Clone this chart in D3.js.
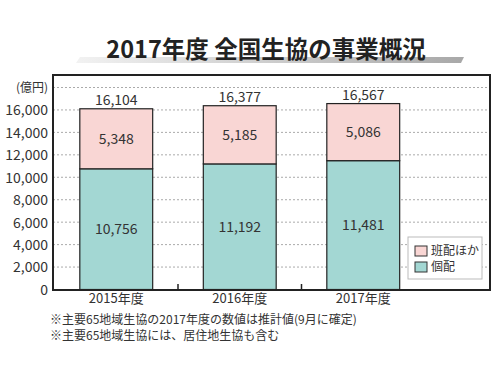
<!DOCTYPE html>
<html><head><meta charset="utf-8">
<script src="https://cdn.jsdelivr.net/npm/d3@7"></script>
<style>body{margin:0;background:#fff}svg{display:block}text{font-family:"Noto Sans CJK JP","Noto Sans",sans-serif}</style>
</head><body><svg id="c" width="500" height="375"></svg>
<script>
const categories = ["2015年度","2016年度","2017年度"];
const kohai = [10756, 11192, 11481];
const hanhai = [5348, 5185, 5086];
const totals = [16104, 16377, 16567];
const yTicks = [0,2000,4000,6000,8000,10000,12000,14000,16000];
const seriesNames = ["班配ほか","個配"];
const colors = {kohai:"#a3d7d3", hanhai:"#f9d6d4"};
const titleText = "2017年度 全国生協の事業概況";
const unitLabel = "(億円)";
const notes = ["※主要65地域生協の2017年度の数値は推計値(9月に確定)","※主要65地域生協には、居住地生協も含む"];

const svg = d3.select("#c");
const fmt = d3.format(",");
const frame = {l:53, r:490, t:75, b:290};
const x = d3.scaleBand().domain(categories).range([54.5, 425]).paddingInner(0.41).paddingOuter(0.205);
const y = d3.scaleLinear().domain([0,18000]).range([289.5, 87.5]);

// title underline bar
const defs = svg.append("defs");
const g = defs.append("linearGradient").attr("id","tg");
g.append("stop").attr("offset","0").attr("stop-color","#f2f2f2");
g.append("stop").attr("offset","1").attr("stop-color","#a8a8a8");
svg.append("path").attr("d","M80,57 L464,57 L461,63 L76,63 Z").attr("fill","url(#tg)");
svg.append("text").attr("x",266).attr("y",58).attr("text-anchor","middle")
  .attr("font-size",23.5).attr("font-weight","bold").attr("fill","#222").text(titleText);

// gridlines
const grid = yTicks.concat([18000]).filter(d=>d>0);
svg.append("g").selectAll("line").data(grid).join("line")
  .attr("x1",frame.l).attr("x2",frame.r).attr("y1",d=>y(d)).attr("y2",d=>y(d))
  .attr("stroke","#aaa").attr("stroke-width",1).attr("stroke-dasharray","2,2");

// bars
const bw = x.bandwidth();
svg.append("g").selectAll("rect").data(categories).join("rect")
  .attr("x",d=>x(d)).attr("width",bw)
  .attr("y",(d,i)=>y(kohai[i])).attr("height",(d,i)=>y(0)-y(kohai[i]))
  .attr("fill",colors.kohai).attr("stroke","#222").attr("stroke-width",1.2);
svg.append("g").selectAll("rect").data(categories).join("rect")
  .attr("x",d=>x(d)).attr("width",bw)
  .attr("y",(d,i)=>y(kohai[i]+hanhai[i])).attr("height",(d,i)=>y(kohai[i])-y(kohai[i]+hanhai[i]))
  .attr("fill",colors.hanhai).attr("stroke","#222").attr("stroke-width",1.2);

// value labels
const lab = svg.append("g").attr("font-size",14).attr("fill","#333").attr("text-anchor","middle");
categories.forEach((c,i)=>{
  const cx = x(c)+bw/2;
  lab.append("text").attr("x",cx).attr("y",y((kohai[i])/2)+5).text(fmt(kohai[i]));
  lab.append("text").attr("x",cx).attr("y",y(kohai[i]+hanhai[i]/2)+5).text(fmt(hanhai[i]));
  lab.append("text").attr("x",cx).attr("y",y(totals[i])-4).text(fmt(totals[i]));
});

// frame
svg.append("rect").attr("x",frame.l).attr("y",frame.t).attr("width",frame.r-frame.l).attr("height",frame.b-frame.t)
  .attr("fill","none").attr("stroke","#222").attr("stroke-width",2);

// y axis labels
const ya = svg.append("g").attr("transform",`translate(${frame.l},0)`)
  .call(d3.axisLeft(y).tickValues(yTicks).tickFormat(fmt).tickSize(0).tickPadding(5));
ya.select(".domain").remove();
ya.selectAll("text").attr("font-size",14).attr("fill","#333").attr("font-family",'"Noto Sans CJK JP","Noto Sans",sans-serif').attr("dy","0.35em");
svg.append("text").attr("x",48).attr("y",y(18000)+4).attr("text-anchor","end").attr("font-size",12).attr("fill","#333").text(unitLabel);

// x axis labels and ticks
const xa = svg.append("g").attr("transform",`translate(0,${frame.b})`)
  .call(d3.axisBottom(x).tickSize(0).tickPadding(4));
xa.select(".domain").remove();
xa.selectAll("text").attr("font-size",13).attr("fill","#333").attr("font-family",'"Noto Sans CJK JP","Noto Sans",sans-serif');
const bounds = categories.slice(1).map(c=>x(c)-x.step()*x.paddingInner()/2);
svg.append("g").selectAll("line").data(bounds).join("line")
  .attr("x1",d=>d).attr("x2",d=>d).attr("y1",frame.b).attr("y2",frame.b-6)
  .attr("stroke","#222").attr("stroke-width",1.5);

// legend
const lg = svg.append("g");
lg.append("rect").attr("x",408).attr("y",237).attr("width",74).attr("height",42).attr("fill","#fff").attr("stroke","#bbb");
const lcol = [colors.hanhai, colors.kohai];
seriesNames.forEach((n,i)=>{
  lg.append("rect").attr("x",415).attr("y",246+i*16).attr("width",12).attr("height",10).attr("fill",lcol[i]).attr("stroke","#333");
  lg.append("text").attr("x",431).attr("y",255+i*16).attr("font-size",12).attr("fill","#333").text(n);
});

// notes
svg.append("g").selectAll("text").data(notes).join("text")
  .attr("x",50).attr("y",(d,i)=>324+i*16).attr("font-size",12).attr("fill","#333").text(d=>d);
</script></body></html>
